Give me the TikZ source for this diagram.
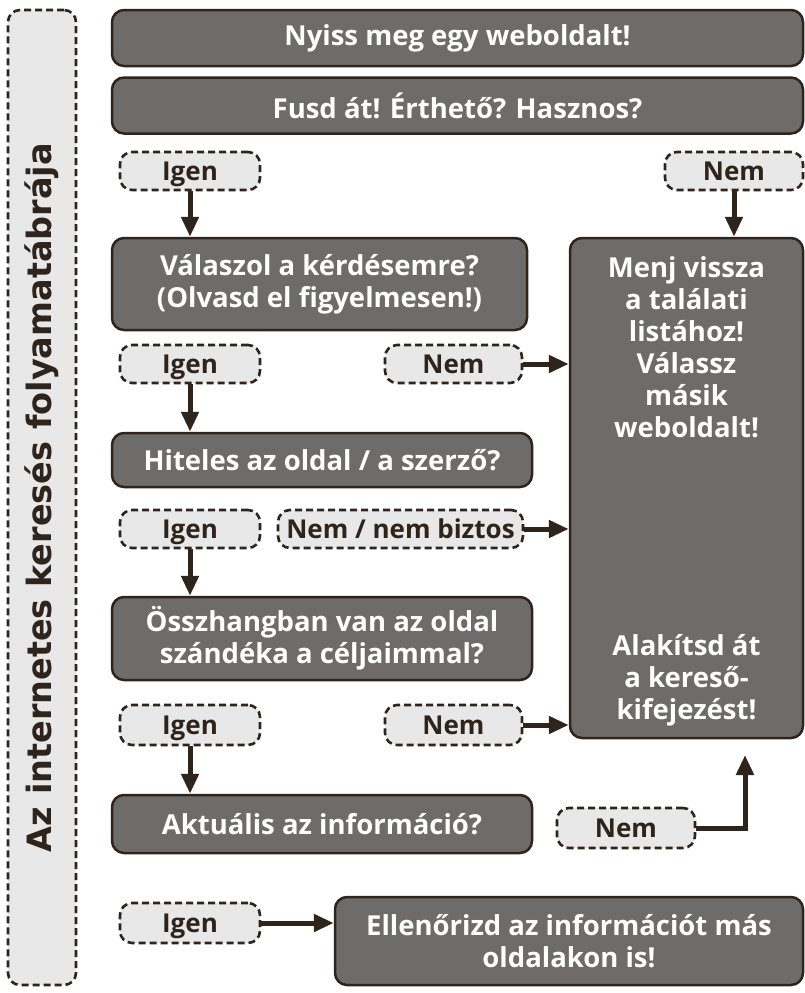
\documentclass[tikz,border=0pt]{standalone}
\usepackage{fontspec}
\setmainfont{Open Sans}
\newfontfamily\titlefont{DejaVu Sans}
\usetikzlibrary{arrows.meta,calc}
\definecolor{darkfill}{HTML}{6E6C6A}
\definecolor{edge}{HTML}{2E241C}
\definecolor{lightfill}{HTML}{E8E8E8}
\begin{document}
\begin{tikzpicture}[x=1pt,y=-1pt,
  dbox/.style={draw=edge, line width=2.5pt, fill=darkfill, rounded corners=12pt,
    text=white, font=\bfseries\fontsize{27.5}{32}\selectfont, align=center, inner sep=0pt},
  lbox/.style={draw=edge, line width=2.6pt, dash pattern=on 7pt off 4pt, fill=lightfill,
    rounded corners=12pt, text=edge, font=\bfseries\fontsize{26}{30}\selectfont, inner sep=0pt,
    text height=18.5pt, text depth=0pt},
  rtext/.style={text=white, font=\bfseries\fontsize{27.5}{32}\selectfont, align=center, inner sep=0pt},
  arr/.style={draw=edge, line width=5pt, -{Triangle[length=20pt,width=17pt]}}
]
\useasboundingbox (0,0) rectangle (805,993);

\node[lbox, text height=, text depth=, minimum width=68pt, minimum height=975pt] (title) at (42,497.5)
  {\rotatebox{90}{\titlefont\bfseries\fontsize{33.5}{38}\selectfont Az internetes keresés folyamatábrája}};

\node[dbox, minimum width=691pt, minimum height=56pt] (b1) at (457.5,38) {Nyiss meg egy weboldalt!};
\node[dbox, minimum width=691pt, minimum height=56pt] (b2) at (457.5,105.5) {Fusd át! Érthető? Hasznos?};

\node[lbox, minimum width=140pt, minimum height=38pt] (i1) at (190,171) {Igen};
\node[lbox, minimum width=138pt, minimum height=38pt] (n1) at (734,171) {Nem};

\node[dbox, minimum width=415pt, minimum height=92pt] (b3) at (319.5,284)
  {Válaszol a kérdésemre?\\(Olvasd el figyelmesen!)};
\node[dbox, minimum width=233pt, minimum height=500pt] (R) at (686.5,488) {};
\node[rtext] (rt1) at (686.5,347) {Menj vissza\\a találati\\listához!\\Válassz\\másik\\weboldalt!};
\node[rtext] (rt2) at (686.5,680) {Alakítsd át\\a kereső-\\kifejezést!};

\node[lbox, minimum width=140pt, minimum height=38pt] (i2) at (190,364) {Igen};
\node[lbox, minimum width=137pt, minimum height=38pt] (n2) at (453.5,364) {Nem};

\node[dbox, minimum width=420pt, minimum height=54pt] (b4) at (322,460) {Hiteles az oldal / a szerző?};

\node[lbox, minimum width=140pt, minimum height=38pt] (i3) at (190,529) {Igen};
\node[lbox, minimum width=245pt, minimum height=38pt] (n3) at (400.5,529) {Nem / nem biztos};

\node[dbox, minimum width=420pt, minimum height=83pt] (b5) at (322,638.5)
  {Összhangban van az oldal\\szándéka a céljaimmal?};

\node[lbox, minimum width=140pt, minimum height=40pt] (i4) at (190,725) {Igen};
\node[lbox, minimum width=137pt, minimum height=40pt] (n4) at (453.5,725) {Nem};

\node[dbox, minimum width=420pt, minimum height=58pt] (b6) at (322,824) {Aktuális az információ?};
\node[lbox, minimum width=138pt, minimum height=40pt] (n5) at (626,828) {Nem};
\coordinate (c5) at (745,755);

\node[lbox, minimum width=140pt, minimum height=40pt] (i5) at (190,923) {Igen};
\node[dbox, minimum width=468pt, minimum height=88pt] (b7) at (569,941)
  {Ellenőrizd az információt más\\oldalakon is!};

\draw[arr] (i1.south) -- (i1.south |- b3.north);
\draw[arr] (n1.south) -- (n1.south |- R.north);
\draw[arr] (n2.east) -- (R.west |- n2.east);
\draw[arr] (i2.south) -- (i2.south |- b4.north);
\draw[arr] (n3.east) -- (R.west |- n3.east);
\draw[arr] (i3.south) -- (i3.south |- b5.north);
\draw[arr] (n4.east) -- (R.west |- n4.east);
\draw[arr] (i4.south) -- (i4.south |- b6.north);
\draw[arr] (n5.east) -| (c5);
\draw[arr] (i5.east) -- (b7.west |- i5.east);
\end{tikzpicture}
\end{document}
